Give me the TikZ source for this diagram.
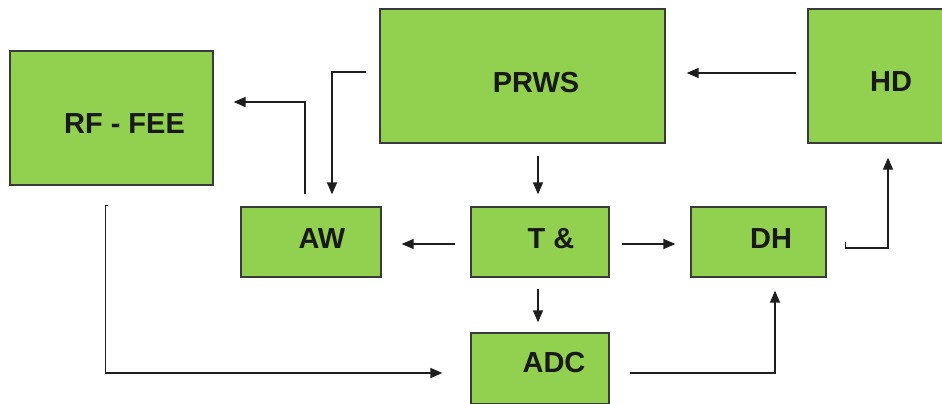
\documentclass[tikz,border=0pt]{standalone}
\usepackage{fontspec}
\setmainfont{Liberation Sans}
\usetikzlibrary{arrows.meta}

\definecolor{boxgreen}{RGB}{146,208,80}
\definecolor{edgegray}{RGB}{58,58,58}
\definecolor{wire}{RGB}{30,30,30}

% label inside a block: #1 = extra space on the left, #2 = vertical shift
\newcommand\blocklabel[3]{\hspace*{#1}\raisebox{#2}[\height][0pt]{#3}}

\begin{document}
\begin{tikzpicture}[x=1pt,y=-1pt,
  blk/.style={draw=edgegray, line width=1.3pt, fill=boxgreen, inner sep=0pt,
              font=\fontsize{29}{34}\selectfont\bfseries, text=black!90},
  arr/.style={draw=wire, line width=1.4pt, -{Triangle[length=12pt,width=10pt]}}]

\fill[white] (0,0) rectangle (942,404);
\useasboundingbox (0,0) rectangle (942,404);

% blocks
\node[blk, minimum width=203pt, minimum height=134pt] (rf)   at (111.5,118) {\blocklabel{26pt}{-5.5pt}{RF - FEE}};
\node[blk, minimum width=285pt, minimum height=134pt] (prws) at (522.5,76)  {\blocklabel{27pt}{-6.5pt}{PRWS}};
\node[blk, minimum width=142pt, minimum height=134pt] (hd)   at (879,76)    {\blocklabel{24pt}{-5.5pt}{HD}};
\node[blk, minimum width=140pt, minimum height=70pt]  (aw)   at (311,242)   {\blocklabel{22pt}{3.5pt}{AW}};
\node[blk, minimum width=138pt, minimum height=70pt]  (tw)   at (540,242)   {\blocklabel{22pt}{3.5pt}{T \&}};
\node[blk, minimum width=135pt, minimum height=70pt]  (dh)   at (758.5,242) {\blocklabel{25pt}{3.5pt}{DH}};
\node[blk, minimum width=138pt, minimum height=71pt]  (adc)  at (540,368.5) {\blocklabel{28pt}{6pt}{ADC}};

% connectors
\draw[arr] ([xshift=-11pt,yshift=3pt]hd.west) -- ([xshift=21pt,yshift=3pt]prws.east);
\draw[arr] ([xshift=-13pt,yshift=4pt]prws.west) -| ([xshift=21pt,yshift=12pt]aw.north);
\draw[arr] ([xshift=-6pt,yshift=12pt]aw.north) |- ([xshift=20pt,yshift=16pt]rf.east);
\draw[arr] ([xshift=15.5pt,yshift=-12pt]prws.south) -- ([xshift=-2pt,yshift=12pt]tw.north);
\draw[arr] ([xshift=-15pt,yshift=-2pt]tw.west) -- ([xshift=20pt,yshift=-2pt]aw.east);
\draw[arr] ([xshift=12pt,yshift=-2pt]tw.east) -- ([xshift=-15pt,yshift=-2pt]dh.west);
\draw[arr] ([xshift=-2pt,yshift=-11pt]tw.south) -- ([xshift=-2pt,yshift=10pt]adc.north);
\draw[arr] ([xshift=20pt,yshift=-4.5pt]adc.east) -| ([xshift=16.5pt,yshift=-13pt]dh.south);
\draw[arr] ([xshift=19pt]dh.east) -- ++(0,-6pt) -| ([xshift=9pt,yshift=-14pt]hd.south);
\draw[arr] ([xshift=-4pt,yshift=-20pt]rf.south) -- ++(-2pt,0) |- ([xshift=-28pt,yshift=-4.5pt]adc.west);

\end{tikzpicture}
\end{document}
